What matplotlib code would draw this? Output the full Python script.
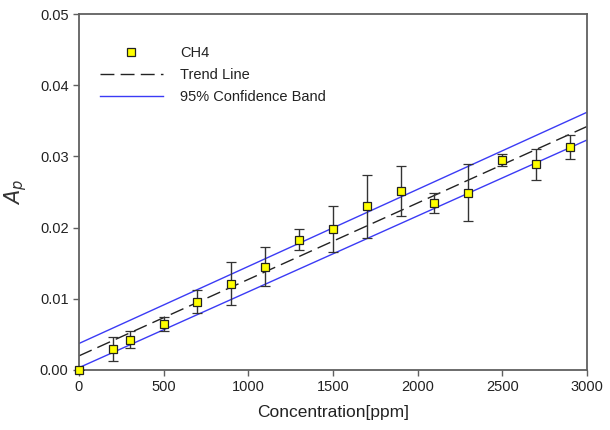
import matplotlib
matplotlib.use("Agg")
import matplotlib.pyplot as plt
import numpy as np
from matplotlib.ticker import FormatStrFormatter
from matplotlib.lines import Line2D

conc = [0, 200, 300, 500, 700, 900, 1100, 1300, 1500, 1700, 1900, 2100, 2300, 2500, 2700, 2900]
ap = [0.0000, 0.0029, 0.0042, 0.0064, 0.0096, 0.0121, 0.0145, 0.0183, 0.0198, 0.0230,
      0.0251, 0.0234, 0.0249, 0.0295, 0.0289, 0.0313]
err = [0.0000, 0.0017, 0.0012, 0.0010, 0.0016, 0.0030, 0.0027, 0.0015, 0.0032, 0.0044,
       0.0035, 0.0014, 0.0040, 0.0008, 0.0022, 0.0017]

line_x = [0, 3000]
trend_y = [0.00196, 0.0342]
upper_y = [0.0037, 0.0362]
lower_y = [0.0003, 0.0323]

plt.rcParams['font.family'] = ['Liberation Sans', 'DejaVu Sans']

fig = plt.figure(figsize=(6.1, 4.3), dpi=100)
ax = fig.add_axes([0.1295, 0.14, 0.8325, 0.827])

blue = '#3b3bf5'
dash = (10, 4.5)
ax.plot(line_x, trend_y, color='#222222', lw=1.0, dashes=dash, zorder=2)
ax.plot(line_x, upper_y, color=blue, lw=1.0, zorder=2)
ax.plot(line_x, lower_y, color=blue, lw=1.0, zorder=2)
eb = ax.errorbar(conc, ap, yerr=err, fmt='s', color='#333333', ecolor='#333333', elinewidth=1.0,
                 capsize=3.6, capthick=1.0, markersize=6.2, markerfacecolor='#ffff00',
                 markeredgecolor='#222222', markeredgewidth=0.9, zorder=3)
for art in eb.lines[0:1]:
    art.set_clip_on(False)

ax.set_xlim(0, 3000)
ax.set_ylim(0, 0.05)
ax.set_xticks([0, 500, 1000, 1500, 2000, 2500, 3000])
ax.set_yticks([0.00, 0.01, 0.02, 0.03, 0.04, 0.05])
ax.yaxis.set_major_formatter(FormatStrFormatter('%.2f'))
for s in ax.spines.values():
    s.set_color('#606060')
    s.set_linewidth(1.3)
ax.tick_params(direction='out', length=4, width=1.0, color='#606060', labelsize=10.5,
               labelcolor='#222222')
ax.set_xlabel('Concentration[ppm]', fontsize=12.5, color='#222222', labelpad=8)
ax.set_ylabel(r'$A_p$', fontsize=15, color='#333333', labelpad=8)

handles = [
    Line2D([], [], ls='none', marker='s', markersize=6.2, markerfacecolor='#ffff00',
           markeredgecolor='#222222', markeredgewidth=0.9),
    Line2D([], [], color='#222222', lw=1.0, dashes=dash),
    Line2D([], [], color=blue, lw=1.0),
]
labels = ['CH4', 'Trend Line', '95% Confidence Band']
leg = ax.legend(handles, labels, loc='upper left', bbox_to_anchor=(0.041, 0.91),
                frameon=False, handlelength=4.3, handletextpad=1.2, labelspacing=0.55,
                borderpad=0, borderaxespad=0, fontsize=10.5)
for t in leg.get_texts():
    t.set_color('#222222')

fig.savefig('out.png', dpi=100)
